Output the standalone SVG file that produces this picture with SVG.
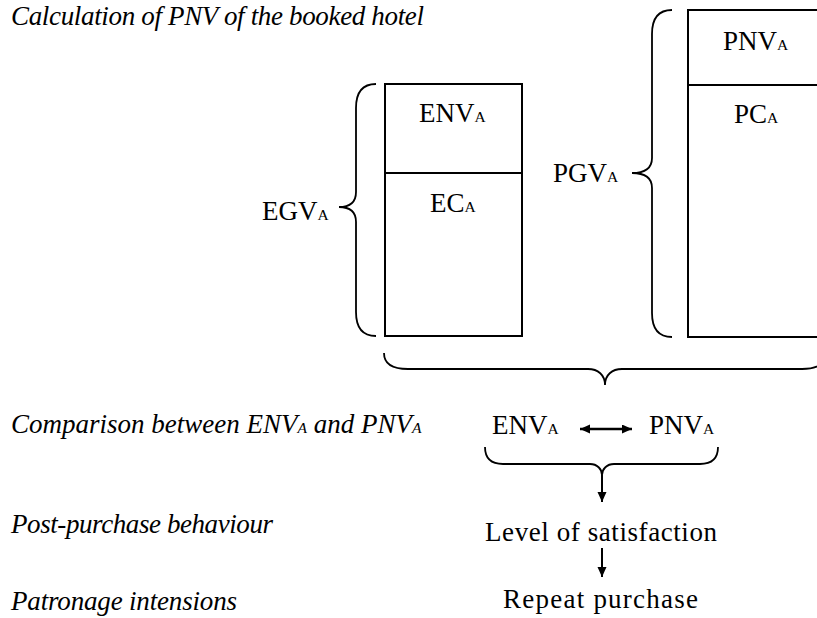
<svg xmlns="http://www.w3.org/2000/svg" width="817" height="618" viewBox="0 0 817 618">
<defs>
<marker id="ah" markerUnits="userSpaceOnUse" markerWidth="11" markerHeight="10" refX="10" refY="4.5" orient="auto-start-reverse">
<path d="M0,0 L10,4.5 L0,9 z" fill="#000"/>
</marker>
<style>
text{font-family:"Liberation Serif","Times New Roman",serif;font-size:27px;fill:#000}
.it{font-style:italic}
.sub{font-size:15.5px}
.box{fill:#fff;stroke:#000;stroke-width:2}
.ln{stroke:#000;stroke-width:2;fill:none}
.br{stroke:#000;stroke-width:1.8;fill:none}
.ar{stroke:#000;stroke-width:2;fill:none;marker-end:url(#ah)}
.ar2{stroke:#000;stroke-width:2.4;fill:none;marker-end:url(#ah);marker-start:url(#ah)}
</style>
</defs>
<rect width="817" height="618" fill="#fff"/>

<g id="title"><text class="it" x="11" y="25" textLength="413" lengthAdjust="spacing">Calculation of PNV of the booked hotel</text></g>

<g id="egv"><text x="262" y="220">EGV<tspan class="sub">A</tspan></text></g>

<g id="env-box">
<rect class="box" x="385" y="84" width="137" height="252"/>
<line class="ln" x1="385" y1="173" x2="522" y2="173"/>
<text x="419" y="122">ENV<tspan class="sub">A</tspan></text>
<text x="430" y="212">EC<tspan class="sub">A</tspan></text>
</g>

<g id="pgv"><text x="553" y="182">PGV<tspan class="sub">A</tspan></text></g>

<g id="pnv-box">
<rect class="box" x="688" y="10" width="140" height="327"/>
<line class="ln" x1="688" y1="85" x2="828" y2="85"/>
<text x="723" y="50">PNV<tspan class="sub">A</tspan></text>
<text x="734" y="123">PC<tspan class="sub">A</tspan></text>
</g>

<g id="comparison-label"><text class="it" x="11" y="433">Comparison between ENV<tspan class="sub">A</tspan> and PNV<tspan class="sub">A</tspan></text></g>
<g id="post-label"><text class="it" x="11" y="533" textLength="262" lengthAdjust="spacing">Post-purchase behaviour</text></g>
<g id="patronage-label"><text class="it" x="11" y="610" textLength="226" lengthAdjust="spacing">Patronage intensions</text></g>

<g id="env-cmp"><text x="492" y="434">ENV<tspan class="sub">A</tspan></text></g>
<g id="pnv-cmp"><text x="649" y="434">PNV<tspan class="sub">A</tspan></text></g>
<g id="satisfaction"><text x="485" y="541" textLength="232" lengthAdjust="spacing">Level of satisfaction</text></g>
<g id="repeat"><text x="503" y="608" textLength="195" lengthAdjust="spacing">Repeat purchase</text></g>

<g id="connectors">
<path class="br" d="M376,84 C362,84 356,92 356,108 L356,192 C356,202 350,207 339,207 C350,207 356,212 356,222 L356,312 C356,328 362,336 376,336"/>
<path class="br" d="M672,10 C658,10 652,18 652,34 L652,158 C652,168 645,173 632,173 C645,173 652,178 652,188 L652,313 C652,329 658,337 672,337"/>
<path class="br" d="M384,353 C384,364 392,369 408,369 L588,369 C598,369 605,375 605,385 C605,375 612,369 622,369 L802,369 C818,369 826,364 826,353"/>
<path class="br" d="M485,447 C485,458 491,464 503,464 L590,464 C597,464 602,469 602,475 C602,469 607,464 614,464 L700,464 C712,464 718,458 718,447"/>
<line class="ar" x1="602" y1="475" x2="602" y2="502"/>
<line class="ar" x1="602" y1="548" x2="602" y2="577"/>
<line class="ar2" x1="580" y1="429" x2="632" y2="429"/>
</g>
</svg>
